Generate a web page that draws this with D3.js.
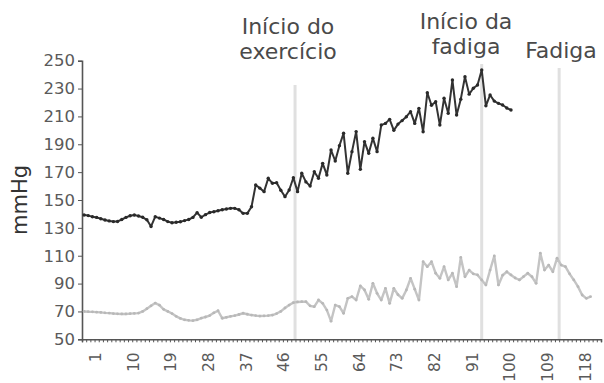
<!DOCTYPE html>
<html>
<head>
<meta charset="utf-8">
<script src="https://cdn.jsdelivr.net/npm/d3@7/dist/d3.min.js"></script>
<style>
  html, body { margin: 0; padding: 0; background: #fff; }
  svg { display: block; }
  text { font-family: "DejaVu Sans", sans-serif; }
</style>
</head>
<body>
<svg id="chart" width="604" height="383"></svg>
<script>
// Measurement index (one reading per step)
const categories = d3.range(1, 125);

// Systolic pressure, mmHg (readings 1..103)
const systolic = [
  139.2, 138.8, 138, 137.5, 136.5, 135.6, 135, 134.5, 134.6, 136,
  137.5, 138.7, 139.2, 138.5, 137.6, 135.8, 131, 138, 137, 136,
  134.5, 133.7, 134, 134.4, 135.2, 136, 137.5, 140.9, 137.6, 139.5,
  141, 141.6, 142.3, 143, 143.5, 144, 144, 143, 140.4, 140.4,
  145.2, 160.8, 158.5, 156, 165.6, 162, 162.4, 157, 152.4, 157.2,
  166, 156, 169.2, 163, 160, 170.3, 165.6, 176.3, 168, 185.9,
  178, 189, 197.9, 169.2, 184.7, 199.1, 172, 191.9, 183.5, 194.3,
  184.7, 203.8, 205, 207.9, 200, 204.5, 207, 209.8, 213.4, 205,
  215.8, 199, 227, 218, 220.6, 203.8, 223, 212.2, 236.1, 211,
  222.4, 238.5, 226, 230.2, 232.6, 243.3, 217.6, 225.4, 221, 219.4,
  218.2, 216, 214.6
];

// Diastolic pressure, mmHg (readings 1..122)
const diastolic = [
  70, 69.8, 69.7, 69.5, 69.3, 69, 68.8, 68.5, 68.3, 68.2,
  68.2, 68.4, 68.6, 68.8, 70, 72, 74, 76, 74.5, 71.5,
  70, 68.5, 66.5, 65, 64, 63.6, 63.4, 64, 65.2, 66,
  67, 69, 70.5, 65.1, 65.8, 66.5, 67, 67.8, 68.7, 68,
  67.4, 67, 66.7, 66.8, 67, 67.4, 68.5, 70, 72.5, 74.6,
  76.3, 76.8, 77, 77, 74, 73.4, 78.2, 75.8, 71, 63,
  74.6, 73.4, 68.7, 79.4, 80.6, 78.2, 88.3, 85.4, 78.7, 90.2,
  83, 78.2, 86.6, 75.8, 86.6, 82, 79.4, 85.4, 93.8, 86,
  78.2, 105.7, 102.1, 105.7, 97.4, 93.8, 102.1, 92.6, 97.4, 87.8,
  108.8, 94.9, 99.7, 97, 96.2, 92.6, 89, 99.7, 109.8, 89,
  96, 98.5, 96.2, 94, 92.6, 95, 97.4, 94.9, 90.2, 111.8,
  99.7, 103.3, 98.5, 108.2, 103.3, 102.1, 97, 92.6, 87.8, 81.8,
  79.4, 80.6
];

// Axis ticks
const yTicks = d3.range(50, 251, 20);
const xTickLabels = d3.range(1, 119, 9);

// Protocol events (measurement index) and their captions
const eventAt = [51.4, 96, 114.5];
const eventCaption = [["Início do", "exercício"], ["Início da", "fadiga"], ["Fadiga"]];

const svg = d3.select("#chart");
const plotLeft = 82, plotRight = 601, plotTop = 60.7, plotBottom = 339.3;

const x = d3.scaleLinear().domain([0.5, categories.length + 0.5]).range([plotLeft, plotRight]);
const y = d3.scaleLinear().domain([50, 250]).range([plotBottom, plotTop]);

// Event markers
const evTop = [85, 64, 68];
const capX = [288, 466, 561];
const capBase = [[34, 59], [29, 54], [58]];
svg.append("g").selectAll("line").data(eventAt).join("line")
  .attr("x1", d => x(d)).attr("x2", d => x(d))
  .attr("y1", (d, i) => evTop[i]).attr("y2", plotBottom)
  .attr("stroke", "#e0e0e0").attr("stroke-width", 3);

const cap = svg.append("g").attr("fill", "#4a4a4a").attr("font-size", 22).attr("text-anchor", "middle");
eventCaption.forEach((lines, i) => {
  lines.forEach((t, j) => {
    cap.append("text").attr("x", capX[i]).attr("y", capBase[i][j]).text(t);
  });
});

// Y axis
const yAxis = svg.append("g").attr("transform", `translate(${plotLeft},0)`)
  .call(d3.axisLeft(y).tickValues(yTicks).tickSize(4).tickPadding(3));
yAxis.select(".domain").attr("stroke", "#555").attr("stroke-width", 1.6);
yAxis.selectAll(".tick line").attr("stroke", "#555");
yAxis.selectAll("text").attr("font-size", 16.5).attr("fill", "#5a5a5a")
  .attr("font-family", "DejaVu Sans, sans-serif");

svg.append("text")
  .attr("transform", `translate(27,200) rotate(-90)`)
  .attr("text-anchor", "middle").attr("font-size", 21).attr("fill", "#333")
  .text("mmHg");

// X axis: a tick between every pair of readings
const bounds = d3.range(0.5, categories.length + 0.51, 1);
const xMinor = svg.append("g").attr("transform", `translate(0,${plotBottom})`)
  .call(d3.axisBottom(x).tickValues(bounds).tickSize(3).tickFormat(""));
xMinor.select(".domain").attr("stroke", "#555").attr("stroke-width", 1.6);
xMinor.selectAll(".tick line").attr("stroke", "#555");

const xLab = svg.append("g").attr("transform", `translate(0,${plotBottom})`)
  .call(d3.axisBottom(x).tickValues(xTickLabels).tickSize(0).tickFormat(d3.format("d")));
xLab.select(".domain").remove();
xLab.selectAll("text")
  .attr("transform", "rotate(-90)")
  .attr("x", -13).attr("y", 11).attr("dy", "0.35em")
  .attr("text-anchor", "end")
  .attr("font-size", 15.5).attr("fill", "#5a5a5a")
  .attr("font-family", "DejaVu Sans, sans-serif");

// Series
const line = d3.line().x((d, i) => x(i + 1)).y(d => y(d));

svg.append("path").datum(diastolic)
  .attr("d", line).attr("fill", "none")
  .attr("stroke", "#c4c4c4").attr("stroke-width", 2.4).attr("stroke-linejoin", "round");
svg.append("g").selectAll("circle").data(diastolic).join("circle")
  .attr("cx", (d, i) => x(i + 1)).attr("cy", d => y(d)).attr("r", 1.4).attr("fill", "#b8b8b8");

svg.append("path").datum(systolic)
  .attr("d", line).attr("fill", "none")
  .attr("stroke", "#333").attr("stroke-width", 2).attr("stroke-linejoin", "round");
svg.append("g").selectAll("circle").data(systolic).join("circle")
  .attr("cx", (d, i) => x(i + 1)).attr("cy", d => y(d)).attr("r", 1.7).attr("fill", "#2a2a2a");
</script>
</body>
</html>
